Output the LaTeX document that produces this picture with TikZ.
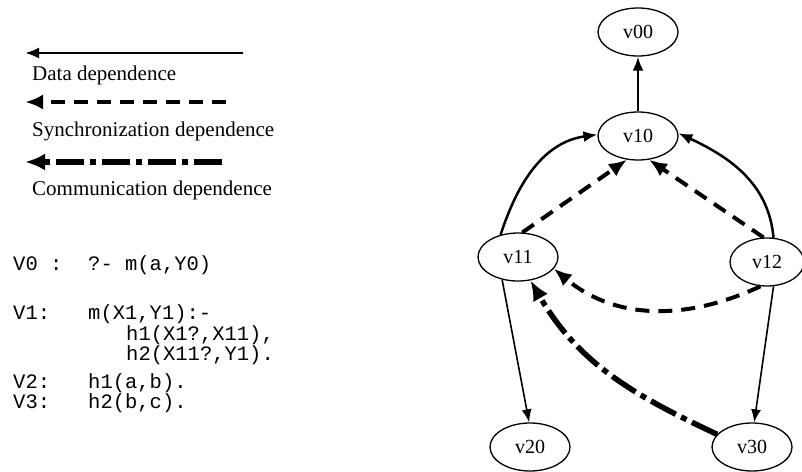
\documentclass[tikz,border=0pt]{standalone}
\usepackage{fontspec}
\setmainfont{Liberation Serif}
\setmonofont{Liberation Mono}
\usetikzlibrary{arrows.meta,shapes.geometric}

\begin{document}
\begin{tikzpicture}[x=1pt,y=1pt,
  vtx/.style={ellipse, draw, line width=1.3pt, minimum width=80pt, minimum height=48pt,
    inner sep=0pt, font=\fontsize{20}{22}\selectfont},
  datadep/.style={line width=2.5pt, -{Latex[length=14pt,width=11pt]}},
  thindep/.style={line width=1.6pt, -{Latex[length=13pt,width=10pt]}},
  syncdep/.style={line width=4pt, dash pattern=on 14pt off 9pt, -{Latex[length=18pt,width=15pt]}},
  commdep/.style={line width=5.5pt, dash pattern=on 28pt off 6pt on 6pt off 6pt,
    -{Latex[length=20pt,width=17pt]}},
  lbl/.style={anchor=base west, inner sep=0pt, font=\fontsize{21}{24}\selectfont},
  code/.style={anchor=base west, inner sep=0pt, font=\ttfamily\fontsize{20.5}{24}\selectfont},
]
\path[use as bounding box] (0,0) rectangle (802,-471);

% legend
\coordinate (dA) at (243,-53);  \coordinate (dB) at (25,-53);
\coordinate (sA) at (226,-102); \coordinate (sB) at (25,-102);
\coordinate (cA) at (222,-162); \coordinate (cB) at (25,-162);
\draw[datadep] (dA) -- (dB);
\draw[syncdep] (sA) -- (sB);
\draw[commdep] (cA) -- (cB);
\node[lbl] (ldata) at (32,-80) {Data dependence};
\node[lbl] (lsync) at (32,-136) {Synchronization dependence};
\node[lbl] (lcomm) at (32,-195) {Communication dependence};

% program clauses
\node[code] (k0) at (13,-270) {V0 :};
\node[code] (b0) at (88,-270) {?- m(a,Y0)};
\node[code] (k1) at (13,-319) {V1:};
\node[code] (b1) at (88,-319) {m(X1,Y1):-};
\node[code] (b1a) at (126,-340) {h1(X1?,X11),};
\node[code] (b1b) at (126,-360) {h2(X11?,Y1).};
\node[code] (k2) at (13,-388) {V2:};
\node[code] (b2) at (88,-388) {h1(a,b).};
\node[code] (k3) at (13,-408) {V3:};
\node[code] (b3) at (88,-408) {h2(b,c).};

% dependence graph
\node[vtx] (v00) at (638,-32) {v00};
\node[vtx] (v10) at (638,-136) {v10};
\node[vtx] (v11) at (518,-257) {v11};
\node[vtx, minimum width=74pt] (v12) at (767,-262) {v12};
\node[vtx] (v20) at (530,-447) {v20};
\node[vtx] (v30) at (752,-447) {v30};

\draw[datadep] (v10) -- (v00);
\draw[datadep] (v11.128) to[out=72,in=188] (v10.178);
\draw[datadep] (v12.75) to[out=95,in=-25] (v10.4);
\draw[syncdep] (v11.80) -- (v10.245);
\draw[syncdep] (v12.98) -- (v10.295);
\draw[syncdep] (v12.255) to[out=205,in=-40] (v11.-18);
\draw[commdep] (v30.160) to[out=155,in=-60] (v11.-62);
\draw[thindep] (v11.235) -- (v20.92);
\draw[thindep] (v12.-75) -- (v30.85);
\end{tikzpicture}
\end{document}
